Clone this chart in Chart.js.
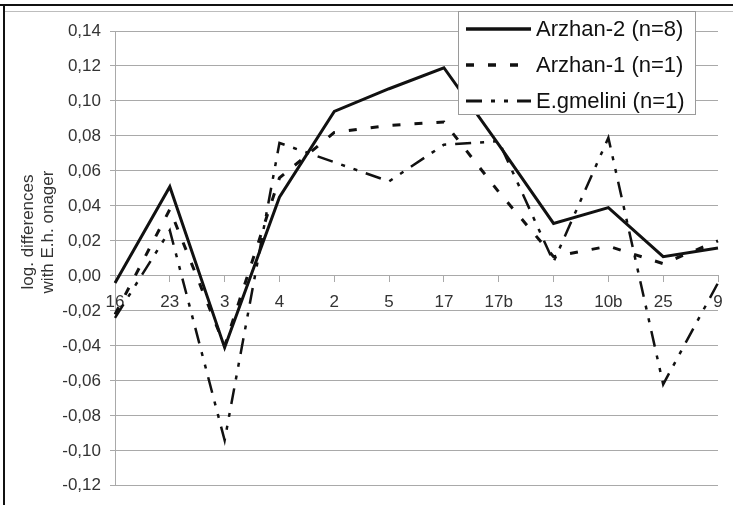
<!DOCTYPE html>
<html>
<head>
<meta charset="utf-8">
<script src="https://cdn.jsdelivr.net/npm/chart.js@4"></script>
<style>
  html, body { margin: 0; padding: 0; background: #fff; }
  #wrap { width: 733px; height: 505px; position: relative; }
</style>
</head>
<body>
<div id="wrap"><canvas id="diffChart" width="733" height="505"></canvas></div>
<script>
// categories (x axis)
const categories = ['16', '23', '3', '4', '2', '5', '17', '17b', '13', '10b', '25', '9'];

// series values
const arzhan2 = [-0.004, 0.051, -0.041, 0.045, 0.094, 0.107, 0.119, 0.075, 0.030, 0.039, 0.011, 0.016];
const arzhan1 = [-0.022, 0.038, -0.040, 0.056, 0.082, 0.086, 0.088, 0.048, 0.011, 0.017, 0.007, 0.020];
const gmelini = [-0.024, 0.026, -0.094, 0.076, 0.065, 0.054, 0.075, 0.077, 0.008, 0.079, -0.062, -0.004];

// labels
const seriesNames = ['Arzhan-2 (n=8)', 'Arzhan-1 (n=1)', 'E.gmelini (n=1)'];
const axisTitle = ['log. differences', 'with E.h. onager'];
const yMin = -0.12;
const yMax = 0.14;
const yStep = 0.02;

const FONT = '"Liberation Sans", Arial, sans-serif';
const GRID = '#a9a9a9';

function fmt(v) {
  if (Math.abs(v) < 1e-9) v = 0;
  return v.toFixed(2).replace('.', ',');
}

// frame, axis title and legend box drawn by hand
const decorations = {
  id: 'decorations',
  beforeDraw(chart) {
    const ctx = chart.ctx;
    ctx.save();
    ctx.fillStyle = '#fff';
    ctx.fillRect(0, 0, chart.width, chart.height);
    ctx.strokeStyle = '#bdbdbd';
    ctx.lineWidth = 1;
    ctx.beginPath();
    ctx.moveTo(5, 11.5);
    ctx.lineTo(chart.width, 11.5);
    ctx.stroke();
    ctx.strokeStyle = '#111';
    ctx.lineWidth = 2;
    ctx.beginPath();
    ctx.moveTo(0, 5);
    ctx.lineTo(chart.width, 5);
    ctx.moveTo(4, 5);
    ctx.lineTo(4, chart.height);
    ctx.stroke();
    ctx.restore();
  },
  afterDraw(chart) {
    const ctx = chart.ctx;
    ctx.save();
    // y axis title, two rotated lines
    ctx.fillStyle = '#333';
    ctx.font = '17px ' + FONT;
    ctx.textAlign = 'center';
    ctx.textBaseline = 'middle';
    axisTitle.forEach((t, i) => {
      ctx.save();
      ctx.translate(28 + i * 20, 232);
      ctx.rotate(-Math.PI / 2);
      ctx.fillText(t, 0, 0);
      ctx.restore();
    });

    // legend
    const bx = 458, by = 11, bw = 237, bh = 103;
    ctx.fillStyle = '#fff';
    ctx.fillRect(bx, by, bw, bh);
    ctx.strokeStyle = '#9a9a9a';
    ctx.lineWidth = 1;
    ctx.strokeRect(bx + 0.5, by + 0.5, bw, bh);
    ctx.font = '22px ' + FONT;
    ctx.textAlign = 'left';
    ctx.textBaseline = 'middle';
    chart.data.datasets.forEach((ds, i) => {
      const y = 29 + i * 36;
      ctx.strokeStyle = ds.borderColor;
      ctx.lineWidth = ds.borderWidth + 0.5;
      ctx.setLineDash(ds.borderDash || []);
      ctx.beginPath();
      ctx.moveTo(466, y);
      ctx.lineTo(531, y);
      ctx.stroke();
      ctx.setLineDash([]);
      ctx.fillStyle = '#111';
      ctx.fillText(ds.label, 536, y + 1);
    });
    ctx.restore();
  }
};

const ctx = document.getElementById('diffChart').getContext('2d');
window.diffChart = new Chart(ctx, {
  type: 'line',
  data: {
    labels: categories,
    datasets: [
      {
        label: seriesNames[0],
        data: arzhan2,
        borderColor: '#111',
        borderWidth: 3,
        pointRadius: 0,
        tension: 0
      },
      {
        label: seriesNames[1],
        data: arzhan1,
        borderColor: '#111',
        borderWidth: 3,
        borderDash: [8, 14],
        pointRadius: 0,
        tension: 0
      },
      {
        label: seriesNames[2],
        data: gmelini,
        borderColor: '#111',
        borderWidth: 2.5,
        borderDash: [16, 9, 4, 9, 4, 9],
        pointRadius: 0,
        tension: 0
      }
    ]
  },
  options: {
    responsive: false,
    animation: false,
    devicePixelRatio: 1,
    layout: { padding: { left: 0, right: 15, top: 31, bottom: 19 } },
    plugins: {
      legend: { display: false },
      tooltip: { enabled: false }
    },
    scales: {
      x: {
        type: 'category',
        offset: false,
        position: { y: 0 },
        grid: {
          drawOnChartArea: false,
          drawTicks: true,
          tickLength: 6,
          tickColor: GRID
        },
        border: { color: GRID, width: 1 },
        ticks: {
          color: '#333',
          font: { family: FONT, size: 17 },
          padding: 10,
          maxRotation: 0,
          autoSkip: false
        }
      },
      y: {
        min: yMin,
        max: yMax,
        afterFit(scale) { scale.width = 115; },
        grid: {
          color: GRID,
          lineWidth: 1,
          tickLength: 5
        },
        border: { color: GRID, width: 1 },
        ticks: {
          stepSize: yStep,
          color: '#333',
          font: { family: FONT, size: 17 },
          padding: 9,
          callback: v => fmt(v)
        }
      }
    }
  },
  plugins: [decorations]
});
</script>
</body>
</html>
